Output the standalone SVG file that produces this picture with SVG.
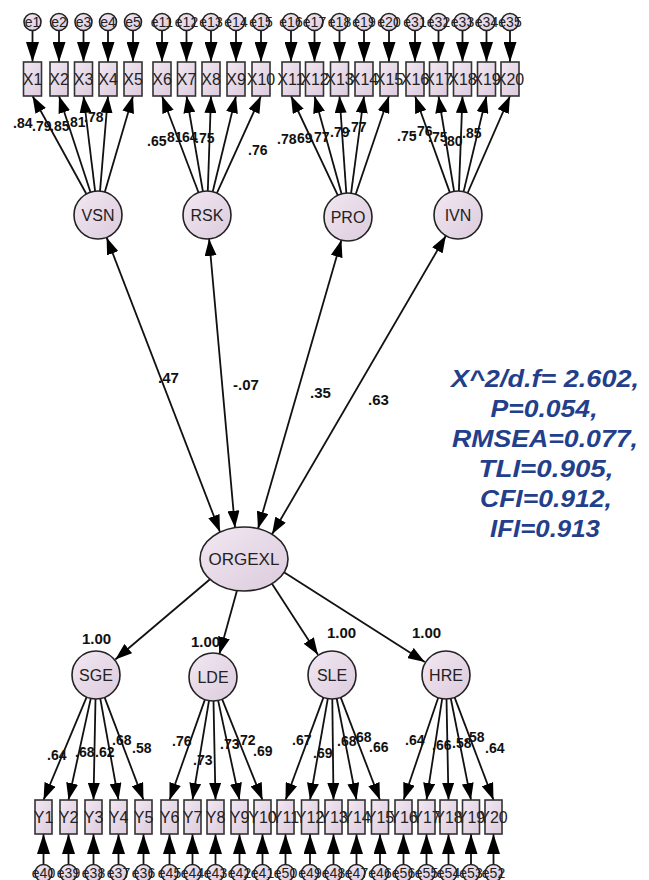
<svg xmlns="http://www.w3.org/2000/svg" width="649" height="880" viewBox="0 0 649 880">
<style>
.nd{fill:url(#g);stroke:#222;stroke-width:1.6}
.bx{fill:url(#g);stroke:#333;stroke-width:1.6}
.ln{stroke:#111;stroke-width:1.8;fill:none;marker-end:url(#arr)}
.le{stroke:#111;stroke-width:1.8;fill:none;marker-end:url(#arrE)}
.dl{stroke:#111;stroke-width:1.8;fill:none;marker-end:url(#arr);marker-start:url(#arr)}
.t{font-family:"Liberation Sans",Arial,sans-serif;fill:#222;text-anchor:middle}
.bt{font-size:16px}
.et{font-size:14px}
.lt{font-size:16px}
.n{font-family:"Liberation Sans",Arial,sans-serif;font-weight:bold;font-size:14px;fill:#111}
.s{font-family:"Liberation Sans",Arial,sans-serif;font-weight:bold;font-size:15px;fill:#111}
.st{font-family:"Liberation Sans",Arial,sans-serif;font-weight:bold;font-style:italic;font-size:24px;fill:#233f8c;text-anchor:middle}
</style>
<defs>
<linearGradient id="g" x1="0" y1="0" x2="1" y2="1">
<stop offset="0" stop-color="#f2e8f2"/>
<stop offset="1" stop-color="#dccbdd"/>
</linearGradient>
<marker id="arr" markerUnits="userSpaceOnUse" markerWidth="17" markerHeight="12" refX="17" refY="6" orient="auto-start-reverse">
<path d="M0,0 L17,6 L0,12 z" fill="#000"/>
</marker>
<marker id="arrE" markerUnits="userSpaceOnUse" markerWidth="20" markerHeight="13" refX="20" refY="6.5" orient="auto">
<path d="M0,0 L20,6.5 L0,13 z" fill="#000"/>
</marker>
</defs>
<rect width="649" height="880" fill="#fff"/>

<g id="connectors">
<!-- top error arrows -->
<path class="le" d="M32.5,31 V62"/><path class="le" d="M59,31 V62"/><path class="le" d="M83.5,31 V62"/><path class="le" d="M108,31 V62"/><path class="le" d="M133,31 V62"/>
<path class="le" d="M162,31 V62"/><path class="le" d="M186.5,31 V62"/><path class="le" d="M211,31 V62"/><path class="le" d="M236,31 V62"/><path class="le" d="M261,31 V62"/>
<path class="le" d="M291,31 V62"/><path class="le" d="M314.5,31 V62"/><path class="le" d="M339.5,31 V62"/><path class="le" d="M364,31 V62"/><path class="le" d="M389,31 V62"/>
<path class="le" d="M415,31 V62"/><path class="le" d="M438.5,31 V62"/><path class="le" d="M462.5,31 V62"/><path class="le" d="M486.5,31 V62"/><path class="le" d="M510,31 V62"/>
<!-- top loadings -->
<path class="ln" d="M86.4,194 L32.5,96"/><path class="ln" d="M90.5,192.2 L59,96"/><path class="ln" d="M95.1,191.2 L83.5,96"/><path class="ln" d="M100,191.1 L108,96"/><path class="ln" d="M104.8,192 L133,96"/>
<path class="ln" d="M198.5,192.5 L162,96"/><path class="ln" d="M202.9,191.4 L186.5,96"/><path class="ln" d="M207.8,191 L211,96"/><path class="ln" d="M212.7,191.7 L236,96"/><path class="ln" d="M216.9,193.2 L261,96"/>
<path class="ln" d="M337.8,195.3 L291,96"/><path class="ln" d="M341.6,193.9 L314.5,96"/><path class="ln" d="M346.3,193 L339.5,96"/><path class="ln" d="M351.1,193.2 L364,96"/><path class="ln" d="M355.7,194.3 L389,96"/>
<path class="ln" d="M449.8,192.4 L415,96"/><path class="ln" d="M454.1,191.3 L438.5,96"/><path class="ln" d="M458.9,191 L462.5,96"/><path class="ln" d="M463.6,191.6 L486.5,96"/><path class="ln" d="M467.6,193 L510,96"/>
<!-- structural -->
<path class="dl" d="M106.6,237.4 L220,532"/>
<path class="dl" d="M209.1,238.9 L235,527.7"/>
<path class="dl" d="M341.4,240.1 L258,528.7"/>
<path class="dl" d="M445.9,235.7 L272,534.3"/>
<!-- second order -->
<path class="ln" d="M210,579.3 L115.3,659.5"/>
<path class="ln" d="M237,590.6 L219.4,653.9"/>
<path class="ln" d="M272,583.7 L318,654.8"/>
<path class="ln" d="M284,572.3 L424.8,662.1"/>
<!-- bottom loadings -->
<path class="ln" d="M86.6,697.1 L43.5,800"/><path class="ln" d="M90.8,698.4 L68.5,800"/><path class="ln" d="M95.5,699 L93.5,800"/><path class="ln" d="M100.3,698.6 L118.5,800"/><path class="ln" d="M104.6,697.4 L143.5,800"/>
<path class="ln" d="M204.9,699.6 L169.5,800"/><path class="ln" d="M209,700.7 L192.5,800"/><path class="ln" d="M213.5,701 L215.5,800"/><path class="ln" d="M218.1,700.4 L239.5,800"/><path class="ln" d="M222.1,699.2 L262.5,800"/>
<path class="ln" d="M323.5,697.4 L285.5,800"/><path class="ln" d="M327.8,698.6 L310,800"/><path class="ln" d="M332.3,699 L333.5,800"/><path class="ln" d="M336.7,698.5 L356.5,800"/><path class="ln" d="M340.7,697.4 L380,800"/>
<path class="ln" d="M438.2,697.7 L403.5,800"/><path class="ln" d="M442.2,698.7 L426.5,800"/><path class="ln" d="M446.5,699 L448.5,800"/><path class="ln" d="M450.8,698.5 L471,800"/><path class="ln" d="M454.6,697.4 L493.5,800"/>
<!-- bottom error arrows -->
<path class="le" d="M43.5,864.5 V834"/><path class="le" d="M68.5,864.5 V834"/><path class="le" d="M93.5,864.5 V834"/><path class="le" d="M118.5,864.5 V834"/><path class="le" d="M143.5,864.5 V834"/>
<path class="le" d="M169.5,864.5 V834"/><path class="le" d="M192.5,864.5 V834"/><path class="le" d="M215.5,864.5 V834"/><path class="le" d="M239.5,864.5 V834"/><path class="le" d="M262.5,864.5 V834"/>
<path class="le" d="M285.5,864.5 V834"/><path class="le" d="M310,864.5 V834"/><path class="le" d="M333.5,864.5 V834"/><path class="le" d="M356.5,864.5 V834"/><path class="le" d="M380,864.5 V834"/>
<path class="le" d="M403.5,864.5 V834"/><path class="le" d="M426.5,864.5 V834"/><path class="le" d="M448.5,864.5 V834"/><path class="le" d="M471,864.5 V834"/><path class="le" d="M493.5,864.5 V834"/>
</g>

<g id="labels">
<text class="n" x="13" y="128">.84</text><text class="n" x="32" y="131">.79</text><text class="n" x="50" y="131">.85</text><text class="n" x="66" y="127">.81</text><text class="n" x="84" y="122">.78</text>
<text class="n" x="147" y="146">.65</text><text class="n" x="163" y="142">.81</text><text class="n" x="178" y="142">.64</text><text class="n" x="195" y="143">.75</text><text class="n" x="248" y="155">.76</text>
<text class="n" x="277" y="144">.78</text><text class="n" x="293" y="143">.69</text><text class="n" x="310" y="142">.77</text><text class="n" x="330" y="137">.79</text><text class="n" x="347" y="132">.77</text>
<text class="n" x="397" y="141">.75</text><text class="n" x="413" y="136">.76</text><text class="n" x="428" y="142">.75</text><text class="n" x="443" y="146">.80</text><text class="n" x="462" y="138">.85</text>
<text class="s" x="158" y="383">.47</text><text class="s" x="233" y="390">-.07</text><text class="s" x="310" y="398">.35</text><text class="s" x="368" y="405">.63</text>
<text class="s" x="82" y="644">1.00</text><text class="s" x="191" y="647">1.00</text><text class="s" x="327" y="638">1.00</text><text class="s" x="412" y="638">1.00</text>
<text class="n" x="47" y="760">.64</text><text class="n" x="75" y="757">.68</text><text class="n" x="95" y="757">.62</text><text class="n" x="112" y="745">.68</text><text class="n" x="132" y="753">.58</text>
<text class="n" x="172" y="746">.76</text><text class="n" x="193" y="765">.73</text><text class="n" x="220" y="749">.73</text><text class="n" x="236" y="745">.72</text><text class="n" x="253" y="756">.69</text>
<text class="n" x="292" y="745">.67</text><text class="n" x="313" y="758">.69</text><text class="n" x="337" y="746">.68</text><text class="n" x="352" y="742">.68</text><text class="n" x="369" y="752">.66</text>
<text class="n" x="405" y="745">.64</text><text class="n" x="432" y="750">.66</text><text class="n" x="452" y="748">.58</text><text class="n" x="465" y="742">.58</text><text class="n" x="485" y="753">.64</text>
</g>

<g id="errors-top">
<g id="e1"><circle class="nd" cx="32.5" cy="22" r="8.5"/><text class="t et" x="32.5" y="27">e1</text></g>
<g id="e2"><circle class="nd" cx="59" cy="22" r="8.5"/><text class="t et" x="59" y="27">e2</text></g>
<g id="e3"><circle class="nd" cx="83.5" cy="22" r="8.5"/><text class="t et" x="83.5" y="27">e3</text></g>
<g id="e4"><circle class="nd" cx="108" cy="22" r="8.5"/><text class="t et" x="108" y="27">e4</text></g>
<g id="e5"><circle class="nd" cx="133" cy="22" r="8.5"/><text class="t et" x="133" y="27">e5</text></g>
<g id="e11"><circle class="nd" cx="162" cy="22" r="8.5"/><text class="t et" x="162" y="27">e11</text></g>
<g id="e12"><circle class="nd" cx="186.5" cy="22" r="8.5"/><text class="t et" x="186.5" y="27">e12</text></g>
<g id="e13"><circle class="nd" cx="211" cy="22" r="8.5"/><text class="t et" x="211" y="27">e13</text></g>
<g id="e14"><circle class="nd" cx="236" cy="22" r="8.5"/><text class="t et" x="236" y="27">e14</text></g>
<g id="e15"><circle class="nd" cx="261" cy="22" r="8.5"/><text class="t et" x="261" y="27">e15</text></g>
<g id="e16"><circle class="nd" cx="291" cy="22" r="8.5"/><text class="t et" x="291" y="27">e16</text></g>
<g id="e17"><circle class="nd" cx="314.5" cy="22" r="8.5"/><text class="t et" x="314.5" y="27">e17</text></g>
<g id="e18"><circle class="nd" cx="339.5" cy="22" r="8.5"/><text class="t et" x="339.5" y="27">e18</text></g>
<g id="e19"><circle class="nd" cx="364" cy="22" r="8.5"/><text class="t et" x="364" y="27">e19</text></g>
<g id="e20"><circle class="nd" cx="389" cy="22" r="8.5"/><text class="t et" x="389" y="27">e20</text></g>
<g id="e31"><circle class="nd" cx="415" cy="22" r="8.5"/><text class="t et" x="415" y="27">e31</text></g>
<g id="e32"><circle class="nd" cx="438.5" cy="22" r="8.5"/><text class="t et" x="438.5" y="27">e32</text></g>
<g id="e33"><circle class="nd" cx="462.5" cy="22" r="8.5"/><text class="t et" x="462.5" y="27">e33</text></g>
<g id="e34"><circle class="nd" cx="486.5" cy="22" r="8.5"/><text class="t et" x="486.5" y="27">e34</text></g>
<g id="e35"><circle class="nd" cx="510" cy="22" r="8.5"/><text class="t et" x="510" y="27">e35</text></g>
</g>

<g id="indicators-top">
<g id="X1"><rect class="bx" x="23.5" y="62" width="18" height="34"/><text class="t bt" x="32.5" y="85">X1</text></g>
<g id="X2"><rect class="bx" x="50" y="62" width="18" height="34"/><text class="t bt" x="59" y="85">X2</text></g>
<g id="X3"><rect class="bx" x="74.5" y="62" width="18" height="34"/><text class="t bt" x="83.5" y="85">X3</text></g>
<g id="X4"><rect class="bx" x="99" y="62" width="18" height="34"/><text class="t bt" x="108" y="85">X4</text></g>
<g id="X5"><rect class="bx" x="124" y="62" width="18" height="34"/><text class="t bt" x="133" y="85">X5</text></g>
<g id="X6"><rect class="bx" x="153" y="62" width="18" height="34"/><text class="t bt" x="162" y="85">X6</text></g>
<g id="X7"><rect class="bx" x="177.5" y="62" width="18" height="34"/><text class="t bt" x="186.5" y="85">X7</text></g>
<g id="X8"><rect class="bx" x="202" y="62" width="18" height="34"/><text class="t bt" x="211" y="85">X8</text></g>
<g id="X9"><rect class="bx" x="227" y="62" width="18" height="34"/><text class="t bt" x="236" y="85">X9</text></g>
<g id="X10"><rect class="bx" x="252" y="62" width="18" height="34"/><text class="t bt" x="261" y="85">X10</text></g>
<g id="X11"><rect class="bx" x="282" y="62" width="18" height="34"/><text class="t bt" x="291" y="85">X11</text></g>
<g id="X12"><rect class="bx" x="305.5" y="62" width="18" height="34"/><text class="t bt" x="314.5" y="85">X12</text></g>
<g id="X13"><rect class="bx" x="330.5" y="62" width="18" height="34"/><text class="t bt" x="339.5" y="85">X13</text></g>
<g id="X14"><rect class="bx" x="355" y="62" width="18" height="34"/><text class="t bt" x="364" y="85">X14</text></g>
<g id="X15"><rect class="bx" x="380" y="62" width="18" height="34"/><text class="t bt" x="389" y="85">X15</text></g>
<g id="X16"><rect class="bx" x="406" y="62" width="18" height="34"/><text class="t bt" x="415" y="85">X16</text></g>
<g id="X17"><rect class="bx" x="429.5" y="62" width="18" height="34"/><text class="t bt" x="438.5" y="85">X17</text></g>
<g id="X18"><rect class="bx" x="453.5" y="62" width="18" height="34"/><text class="t bt" x="462.5" y="85">X18</text></g>
<g id="X19"><rect class="bx" x="477.5" y="62" width="18" height="34"/><text class="t bt" x="486.5" y="85">X19</text></g>
<g id="X20"><rect class="bx" x="501" y="62" width="18" height="34"/><text class="t bt" x="510" y="85">X20</text></g>
</g>

<g id="latents">
<g id="VSN"><circle class="nd" cx="98" cy="215" r="24"/><text class="t lt" x="98" y="221">VSN</text></g>
<g id="RSK"><circle class="nd" cx="207" cy="215" r="24"/><text class="t lt" x="207" y="221">RSK</text></g>
<g id="PRO"><circle class="nd" cx="348" cy="217" r="24"/><text class="t lt" x="348" y="223">PRO</text></g>
<g id="IVN"><circle class="nd" cx="458" cy="215" r="24"/><text class="t lt" x="458" y="221">IVN</text></g>
<g id="ORGEXL"><ellipse class="nd" cx="244" cy="559" rx="44" ry="32"/><text class="t" style="font-size:17px" x="244" y="565">ORGEXL</text></g>
<g id="SGE"><circle class="nd" cx="96" cy="675" r="24"/><text class="t lt" x="96" y="681">SGE</text></g>
<g id="LDE"><circle class="nd" cx="213" cy="677" r="24"/><text class="t lt" x="213" y="683">LDE</text></g>
<g id="SLE"><circle class="nd" cx="332" cy="675" r="24"/><text class="t lt" x="332" y="681">SLE</text></g>
<g id="HRE"><circle class="nd" cx="446" cy="675" r="24"/><text class="t lt" x="446" y="681">HRE</text></g>
</g>

<g id="indicators-bottom">
<g id="Y1"><rect class="bx" x="35" y="800" width="17" height="34"/><text class="t bt" x="43.5" y="823">Y1</text></g>
<g id="Y2"><rect class="bx" x="60" y="800" width="17" height="34"/><text class="t bt" x="68.5" y="823">Y2</text></g>
<g id="Y3"><rect class="bx" x="85" y="800" width="17" height="34"/><text class="t bt" x="93.5" y="823">Y3</text></g>
<g id="Y4"><rect class="bx" x="110" y="800" width="17" height="34"/><text class="t bt" x="118.5" y="823">Y4</text></g>
<g id="Y5"><rect class="bx" x="135" y="800" width="17" height="34"/><text class="t bt" x="143.5" y="823">Y5</text></g>
<g id="Y6"><rect class="bx" x="161" y="800" width="17" height="34"/><text class="t bt" x="169.5" y="823">Y6</text></g>
<g id="Y7"><rect class="bx" x="184" y="800" width="17" height="34"/><text class="t bt" x="192.5" y="823">Y7</text></g>
<g id="Y8"><rect class="bx" x="207" y="800" width="17" height="34"/><text class="t bt" x="215.5" y="823">Y8</text></g>
<g id="Y9"><rect class="bx" x="231" y="800" width="17" height="34"/><text class="t bt" x="239.5" y="823">Y9</text></g>
<g id="Y10"><rect class="bx" x="254" y="800" width="17" height="34"/><text class="t bt" x="262.5" y="823">Y10</text></g>
<g id="Y11"><rect class="bx" x="277" y="800" width="17" height="34"/><text class="t bt" x="285.5" y="823">Y11</text></g>
<g id="Y12"><rect class="bx" x="301.5" y="800" width="17" height="34"/><text class="t bt" x="310" y="823">Y12</text></g>
<g id="Y13"><rect class="bx" x="325" y="800" width="17" height="34"/><text class="t bt" x="333.5" y="823">Y13</text></g>
<g id="Y14"><rect class="bx" x="348" y="800" width="17" height="34"/><text class="t bt" x="356.5" y="823">Y14</text></g>
<g id="Y15"><rect class="bx" x="371.5" y="800" width="17" height="34"/><text class="t bt" x="380" y="823">Y15</text></g>
<g id="Y16"><rect class="bx" x="395" y="800" width="17" height="34"/><text class="t bt" x="403.5" y="823">Y16</text></g>
<g id="Y17"><rect class="bx" x="418" y="800" width="17" height="34"/><text class="t bt" x="426.5" y="823">Y17</text></g>
<g id="Y18"><rect class="bx" x="440" y="800" width="17" height="34"/><text class="t bt" x="448.5" y="823">Y18</text></g>
<g id="Y19"><rect class="bx" x="462.5" y="800" width="17" height="34"/><text class="t bt" x="471" y="823">Y19</text></g>
<g id="Y20"><rect class="bx" x="485" y="800" width="17" height="34"/><text class="t bt" x="493.5" y="823">Y20</text></g>
</g>

<g id="errors-bottom">
<g id="e40"><circle class="nd" cx="43.5" cy="873" r="8.5"/><text class="t et" x="43.5" y="878">e40</text></g>
<g id="e39"><circle class="nd" cx="68.5" cy="873" r="8.5"/><text class="t et" x="68.5" y="878">e39</text></g>
<g id="e38"><circle class="nd" cx="93.5" cy="873" r="8.5"/><text class="t et" x="93.5" y="878">e38</text></g>
<g id="e37"><circle class="nd" cx="118.5" cy="873" r="8.5"/><text class="t et" x="118.5" y="878">e37</text></g>
<g id="e36"><circle class="nd" cx="143.5" cy="873" r="8.5"/><text class="t et" x="143.5" y="878">e36</text></g>
<g id="e45"><circle class="nd" cx="169.5" cy="873" r="8.5"/><text class="t et" x="169.5" y="878">e45</text></g>
<g id="e44"><circle class="nd" cx="192.5" cy="873" r="8.5"/><text class="t et" x="192.5" y="878">e44</text></g>
<g id="e43"><circle class="nd" cx="215.5" cy="873" r="8.5"/><text class="t et" x="215.5" y="878">e43</text></g>
<g id="e42"><circle class="nd" cx="239.5" cy="873" r="8.5"/><text class="t et" x="239.5" y="878">e42</text></g>
<g id="e41"><circle class="nd" cx="262.5" cy="873" r="8.5"/><text class="t et" x="262.5" y="878">e41</text></g>
<g id="e50"><circle class="nd" cx="285.5" cy="873" r="8.5"/><text class="t et" x="285.5" y="878">e50</text></g>
<g id="e49"><circle class="nd" cx="310" cy="873" r="8.5"/><text class="t et" x="310" y="878">e49</text></g>
<g id="e48"><circle class="nd" cx="333.5" cy="873" r="8.5"/><text class="t et" x="333.5" y="878">e48</text></g>
<g id="e47"><circle class="nd" cx="356.5" cy="873" r="8.5"/><text class="t et" x="356.5" y="878">e47</text></g>
<g id="e46"><circle class="nd" cx="380" cy="873" r="8.5"/><text class="t et" x="380" y="878">e46</text></g>
<g id="e56"><circle class="nd" cx="403.5" cy="873" r="8.5"/><text class="t et" x="403.5" y="878">e56</text></g>
<g id="e55"><circle class="nd" cx="426.5" cy="873" r="8.5"/><text class="t et" x="426.5" y="878">e55</text></g>
<g id="e54"><circle class="nd" cx="448.5" cy="873" r="8.5"/><text class="t et" x="448.5" y="878">e54</text></g>
<g id="e53"><circle class="nd" cx="471" cy="873" r="8.5"/><text class="t et" x="471" y="878">e53</text></g>
<g id="e52"><circle class="nd" cx="493.5" cy="873" r="8.5"/><text class="t et" x="493.5" y="878">e52</text></g>
</g>

<g id="fit-stats">
<text class="st" x="545" y="387" textLength="188" lengthAdjust="spacingAndGlyphs">X^2/d.f= 2.602,</text>
<text class="st" x="544" y="417" textLength="107" lengthAdjust="spacingAndGlyphs">P=0.054,</text>
<text class="st" x="545" y="447" textLength="186" lengthAdjust="spacingAndGlyphs">RMSEA=0.077,</text>
<text class="st" x="546" y="477" textLength="135" lengthAdjust="spacingAndGlyphs">TLI=0.905,</text>
<text class="st" x="546" y="507" textLength="132" lengthAdjust="spacingAndGlyphs">CFI=0.912,</text>
<text class="st" x="545" y="537" textLength="110" lengthAdjust="spacingAndGlyphs">IFI=0.913</text>
</g>
</svg>
